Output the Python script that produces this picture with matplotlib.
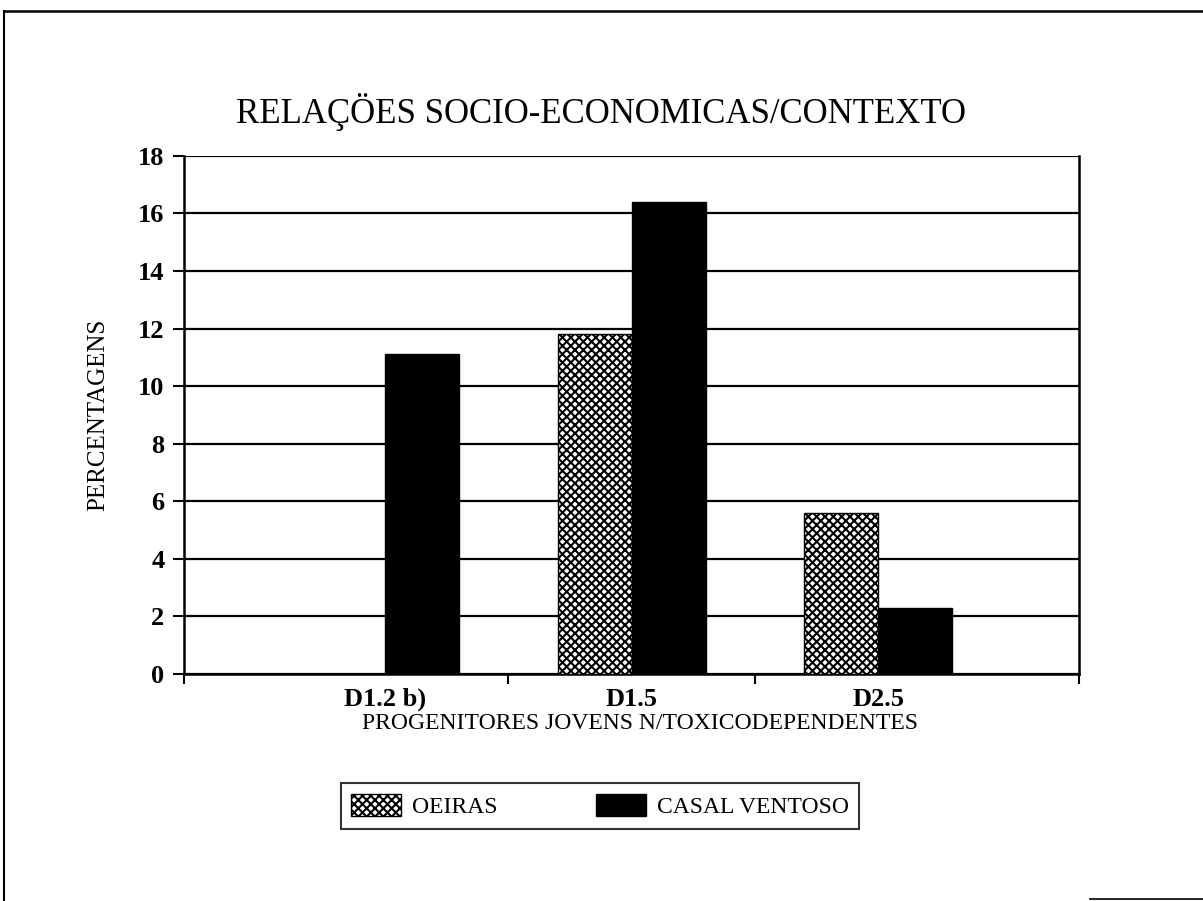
import matplotlib
matplotlib.use("Agg")
import matplotlib.pyplot as plt
from matplotlib.lines import Line2D
import numpy as np

# Data
categories = ["D1.2 b)", "D1.5", "D2.5"]
oeiras = [0.0, 11.8, 5.6]
casal_ventoso = [11.1, 16.4, 2.3]
series_names = ["OEIRAS", "CASAL VENTOSO"]
y_ticks = [0, 2, 4, 6, 8, 10, 12, 14, 16, 18]

title = "RELAÇÖES SOCIO-ECONOMICAS/CONTEXTO"
x_label = "PROGENITORES JOVENS N/TOXICODEPENDENTES"
y_label = "PERCENTAGENS"

plt.rcParams["font.family"] = ["Liberation Serif", "DejaVu Serif"]
plt.rcParams["hatch.color"] = "black"
plt.rcParams["hatch.linewidth"] = 1.5

fig = plt.figure(figsize=(12.03, 9.01), dpi=100)
ax = fig.add_axes([0.153, 0.252, 0.744, 0.575])

x = np.arange(len(categories))
width = 0.30
ax.bar(x - width / 2, oeiras, width, facecolor="white", edgecolor="black",
       hatch="xxxx", linewidth=1.0, zorder=3, label=series_names[0])
ax.bar(x + width / 2, casal_ventoso, width, color="black", edgecolor="black",
       linewidth=1.0, zorder=3, label=series_names[1])

ax.set_xlim(-0.815, 2.815)
ax.set_ylim(0, 18)
ax.set_yticks(y_ticks)
ax.set_xticks(x)
ax.set_xticklabels(categories)
ax.set_xticks([-0.815, 0.5, 1.5, 2.815], minor=True)

ax.yaxis.grid(True, color="black", linewidth=1.6, zorder=1)
ax.set_axisbelow(True)
for side in ["left", "bottom", "right", "top"]:
    ax.spines[side].set_linewidth(1.8)
ax.spines["top"].set_visible(False)

ax.tick_params(axis="y", length=8, width=1.5, pad=6, labelsize=19)
ax.tick_params(axis="x", which="major", length=0, pad=10, labelsize=19)
ax.tick_params(axis="x", which="minor", length=7, width=1.5, direction="out")
for lab in ax.get_yticklabels() + ax.get_xticklabels():
    lab.set_fontweight("bold")

ax.set_xlabel(x_label, fontsize=17)
ax.xaxis.set_label_coords(0.5095, -0.076)
ax.set_ylabel(y_label, fontsize=18)
ax.yaxis.set_label_coords(-0.084, 0.5)

fig.text(0.5, 1 - 112 / 901, title, ha="center", va="center", fontsize=25)

leg = fig.legend(loc="center", bbox_to_anchor=(600 / 1203, 1 - 806 / 901),
                 ncol=2, fontsize=17, frameon=True, fancybox=False,
                 edgecolor="black", handlelength=2.1, handleheight=1.1,
                 columnspacing=4.2, handletextpad=0.45, borderpad=0.45)
leg.get_frame().set_linewidth(1.5)

# outer page frame
fig.add_artist(Line2D([4 / 1203, 4 / 1203], [0, 1 - 11 / 901], color="black",
                      linewidth=1.5, transform=fig.transFigure))
fig.add_artist(Line2D([4 / 1203, 1], [1 - 11 / 901, 1 - 11 / 901], color="black",
                      linewidth=1.8, transform=fig.transFigure))
fig.add_artist(Line2D([1090 / 1203, 1], [1 - 899 / 901, 1 - 899 / 901], color="black",
                      linewidth=1.2, transform=fig.transFigure))

fig.savefig("out.png", dpi=100)
